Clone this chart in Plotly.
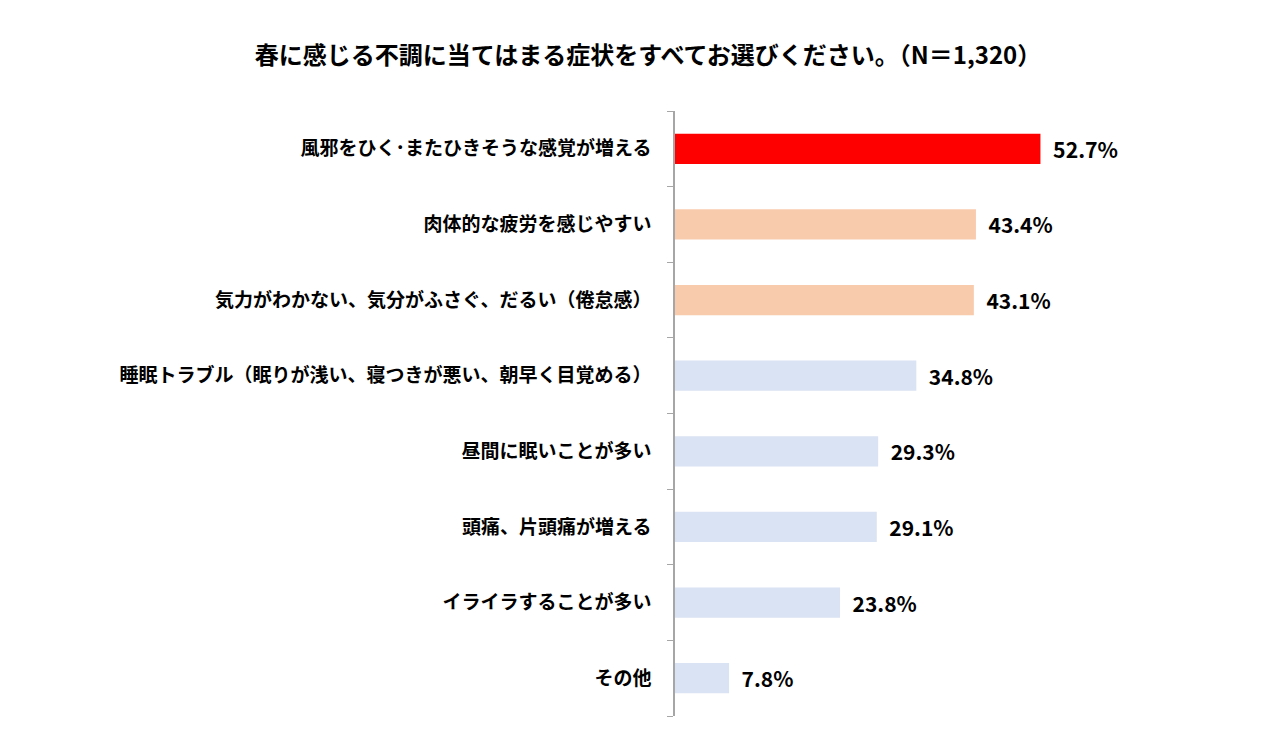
import plotly.graph_objects as go

categories = [
    '風邪をひく･またひきそうな感覚が増える',
    '肉体的な疲労を感じやすい',
    '気力がわかない、気分がふさぐ、だるい（倦怠感）',
    '睡眠トラブル（眠りが浅い、寝つきが悪い、朝早く目覚める）',
    '昼間に眠いことが多い',
    '頭痛、片頭痛が増える',
    'イライラすることが多い',
    'その他',
]
values = [52.7, 43.4, 43.1, 34.8, 29.3, 29.1, 23.8, 7.8]
colors = ['#FF0000', '#F8CBAD', '#F8CBAD'] + ['#DAE3F3'] * 5
label_sizes = [26] + [21] * 7

font = 'Noto Sans CJK JP'

fig = go.Figure(go.Bar(
    x=values, y=categories, orientation='h',
    marker=dict(color=colors, line=dict(width=0)),
    width=0.4,
    text=[f'<b>  {v}%</b>' for v in values],
    textposition='outside',
    textfont=dict(size=label_sizes, color='#000000', family=font),
    cliponaxis=False,
))

fig.update_layout(
    width=1280, height=732,
    paper_bgcolor='white', plot_bgcolor='white',
    margin=dict(l=667, r=0, t=103, b=24),
    title=dict(text='<b>春に感じる不調に当てはまる症状をすべてお選びください。（N＝1,320）</b>',
               x=0.5, xanchor='center', y=0.935, yanchor='middle',
               font=dict(size=24, color='#000000', family=font)),
    showlegend=False,
)
fig.update_xaxes(range=[0, 88.4], visible=False)
fig.update_yaxes(autorange='reversed', showline=True, linecolor='#A6A6A6', linewidth=1.5,
                 ticks='outside', ticklen=6, tickcolor='#A6A6A6', tickson='boundaries',
                 ticklabelstandoff=18,
                 tickfont=dict(size=19, color='#000000', family=font))
fig.update_yaxes(tickvals=categories, ticktext=[f'<b>{c}</b>' for c in categories])

fig.write_html('out.html')
